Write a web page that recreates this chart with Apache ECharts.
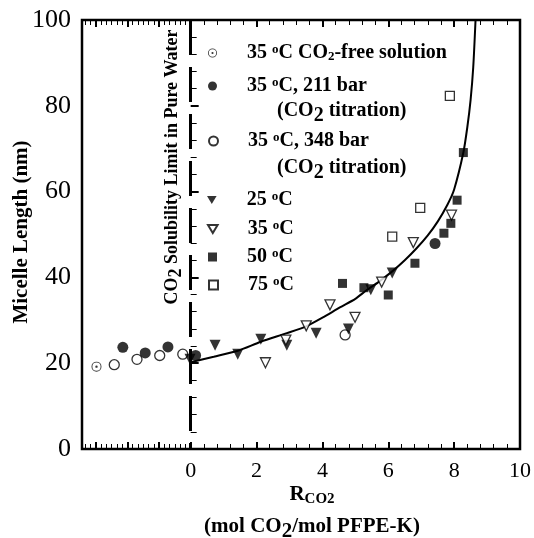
<!DOCTYPE html>
<html>
<head>
<meta charset="utf-8">
<script src="https://cdn.jsdelivr.net/npm/echarts@6/dist/echarts.min.js"></script>
<style>html,body{margin:0;padding:0;background:#fff}#c{width:534px;height:538px}</style>
</head>
<body>
<div id="c"></div>
<script>
// ---- data ----
const co2Free = [[-2.86, 19.2]];
const bar211 = [[-2.06, 23.7], [-1.38, 22.4], [-0.69, 23.8], [0.15, 21.8], [7.42, 47.9]];
const bar348 = [[-2.32, 19.65], [-1.63, 20.9], [-0.94, 21.8], [-0.24, 22.1], [4.69, 26.6]];
const t25 = [[-0.02, 20.9], [0.74, 24.2], [1.43, 22.1], [2.13, 25.6], [2.92, 24.2], [3.81, 27.0], [4.79, 28.0], [5.47, 37.1], [6.12, 41.0]];
const t35 = [[2.27, 20.1], [2.89, 25.4], [3.51, 28.7], [4.23, 33.6], [4.99, 30.7], [5.8, 38.9], [6.76, 48.1], [7.92, 54.5]];
const t50 = [[4.61, 38.6], [5.26, 37.6], [6.0, 35.9], [6.81, 43.3], [7.69, 50.3], [7.9, 52.6], [8.09, 58.0], [8.28, 69.1]];
const t75 = [[6.12, 49.5], [6.97, 56.2], [7.87, 82.3]];
const fitCurve = [[0, 20.2], [0.7, 21.5], [1.43, 22.9], [2.13, 25.0], [2.92, 27.0], [3.51, 28.6], [4.0, 30.6], [4.53, 33.0], [5.0, 35.0], [5.34, 37.0], [5.7, 38.9], [6.12, 41.4], [6.5, 44.0], [6.86, 46.8], [7.2, 49.8], [7.5, 53.0], [7.8, 57.0], [8.0, 60.5], [8.28, 69.1], [8.4, 75.0], [8.5, 81.4], [8.58, 89.0], [8.65, 100]];
const solubilityLimitX = 0;

// ---- axis ticks / labels ----
const xLabelValues = [0, 2, 4, 6, 8, 10];
const xMajorTicks = [-2.88, -1.92, -0.96, 0, 2, 4, 6, 8];
const xMinorTicks = [-3.20, -3.04, -2.72, -2.56, -2.40, -2.24, -2.08, -1.76, -1.60, -1.44, -1.28, -1.12, -0.80, -0.64, -0.48, -0.32, -0.16,
  0.4, 0.8, 1.2, 1.6, 2.4, 2.8, 3.2, 3.6, 4.4, 4.8, 5.2, 5.6, 6.4, 6.8, 7.2, 7.6, 8.4, 8.8, 9.2, 9.6];
const yMajorTicks = [20, 40, 60, 80];
const yMinorTicks = [4, 8, 12, 16, 24, 28, 32, 36, 44, 48, 52, 56, 64, 68, 72, 76, 84, 88, 92, 96];

// ---- legend texts ----
const legendNames = ['free', 'b211', 'b348', 'T25', 'T35', 'T50', 'T75'];
const legendLabels = {
  free: '35 {sup|o}C CO{sub|2}-free solution',
  b211: '35 {sup|o}C, 211 bar',
  b348: '35 {sup|o}C, 348 bar',
  T25: '25 {sup|o}C',
  T35: '35 {sup|o}C',
  T50: '50 {sup|o}C',
  T75: '75 {sup|o}C'
};

const SERIF = '"Liberation Serif", "Times New Roman", serif';
const XMIN = -3.3, XMAX = 10;

const chart = echarts.init(document.getElementById('c'), null, {renderer: 'canvas'});

const richSS = {
  sup: {fontSize: 13, fontWeight: 'bold', fontFamily: SERIF, verticalAlign: 'top', color: '#000', lineHeight: 20},
  sub: {fontSize: 13, fontWeight: 'bold', fontFamily: SERIF, verticalAlign: 'bottom', color: '#000', lineHeight: 14, padding: [8, 0, 0, 0]}
};

function xAxisDef(pos, ticks, len, w, labels) {
  return {
    type: 'value', min: XMIN, max: XMAX, position: pos,
    axisLine: {show: false}, splitLine: {show: false},
    axisTick: {show: true, inside: true, length: len, customValues: ticks, lineStyle: {color: '#000', width: w}},
    axisLabel: labels ? {show: true, customValues: xLabelValues, fontFamily: SERIF, fontSize: 22, color: '#000', margin: 11} : {show: false}
  };
}
function yAxisDef(ticks, len, w, labels) {
  return {
    type: 'value', min: 0, max: 100, interval: 20, position: 'left',
    axisLine: {show: false}, splitLine: {show: false},
    axisTick: {show: true, inside: true, length: len, customValues: ticks, lineStyle: {color: '#000', width: w}},
    axisLabel: labels ? {show: true, fontFamily: SERIF, fontSize: 26, color: '#000', margin: 11} : {show: false}
  };
}

const openStyle = {color: '#fff', borderColor: '#000', borderWidth: 1.3};
const fillStyle = {color: '#000'};
const dotCirclePath = 'path://M0,-10A10,10 0 1,1 0,10A10,10 0 1,1 0,-10ZM0,-8.2A8.2,8.2 0 1,0 0,8.2A8.2,8.2 0 1,0 0,-8.2ZM0,-2.4A2.4,2.4 0 1,1 0,2.4A2.4,2.4 0 1,1 0,-2.4Z';
const downTriPath = 'path://M0,0L12,0L6,10Z';

function scatter(name, data, symbol, size, style, rotate) {
  return {
    name: name, type: 'scatter', data: data, symbol: symbol, symbolSize: size,
    symbolRotate: rotate || 0, itemStyle: style, z: 5, silent: true
  };
}

const series = [
  {
    name: 'fit', type: 'line', data: fitCurve, smooth: 0.25, showSymbol: false, symbol: 'none',
    lineStyle: {color: '#000', width: 2}, z: 3, silent: true,
    markLine: {
      silent: true, symbol: 'none', animation: false,
      label: {show: false},
      lineStyle: {color: '#000', width: 3, type: [35, 12]},
      data: [[{coord: [solubilityLimitX, 100]}, {coord: [solubilityLimitX, 0]}]]
    }
  },
  scatter('free', co2Free, dotCirclePath, 10, fillStyle),
  scatter('b211', bar211, 'circle', 11, fillStyle),
  scatter('b348', bar348, 'circle', 10, openStyle),
  scatter('T25', t25, 'triangle', 11, fillStyle, 180),
  scatter('T35', t35, 'triangle', 10, openStyle, 180),
  scatter('T50', t50, 'rect', 9, fillStyle),
  scatter('T75', t75, 'rect', 9, openStyle)
];

const legendTops = [42, 76, 131, 190, 219, 247, 275];
const legendIcons = [null, null, null, downTriPath, downTriPath, null, null];
const legends = legendNames.map(function (n, i) {
  const l = {
    data: [n], left: 208, top: legendTops[i], orient: 'vertical',
    itemWidth: 9, itemHeight: 9, selectedMode: false, padding: 0,
    formatter: function (name) { return legendLabels[name]; },
    textStyle: {fontFamily: SERIF, fontWeight: 'bold', fontSize: 20, color: '#000', rich: richSS, padding: [0, 0, 0, 25]}
  };
  if (legendIcons[i]) { l.icon = legendIcons[i]; l.itemWidth = 10; l.itemHeight = 8; l.left = 207; }
  return l;
});

function richBold(sz) {
  return {
    s: {fontFamily: SERIF, fontWeight: 'bold', fontSize: sz, fill: '#000', verticalAlign: 'bottom', padding: [9, 0, 0, 0]}
  };
}

const option = {
  animation: false,
  backgroundColor: '#fff',
  grid: {left: 82, right: 14, top: 20, bottom: 89, show: true, borderColor: '#000', borderWidth: 2.5, backgroundColor: 'transparent'},
  xAxis: [
    xAxisDef('bottom', xMajorTicks, 7, 2, true),
    xAxisDef('bottom', xMinorTicks, 5, 1, false),
    xAxisDef('top', xMajorTicks, 7, 2, false),
    xAxisDef('top', xMinorTicks, 5, 1, false)
  ],
  yAxis: [
    yAxisDef(yMajorTicks, 8, 2, true),
    yAxisDef(yMinorTicks, 6, 1, false)
  ],
  legend: legends,
  series: series,
  graphic: [
    {type: 'text', x: 277, y: 111, style: {text: '(CO{s|2} titration)', font: 'bold 20px ' + SERIF, fill: '#000', verticalAlign: 'middle', rich: richBold(20)}},
    {type: 'text', x: 277, y: 168, style: {text: '(CO{s|2} titration)', font: 'bold 20px ' + SERIF, fill: '#000', verticalAlign: 'middle', rich: richBold(20)}},
    {type: 'text', x: 172, y: 167, rotation: Math.PI / 2, style: {text: 'CO{s|2} Solubility Limit in Pure Water', font: 'bold 18px ' + SERIF, fill: '#000', align: 'center', verticalAlign: 'middle', rich: richBold(18)}},
    {type: 'text', x: 22, y: 232, rotation: Math.PI / 2, style: {text: 'Micelle Length (nm)', font: 'bold 21px ' + SERIF, fill: '#000', align: 'center', verticalAlign: 'middle'}},
    {type: 'text', x: 312, y: 495, style: {text: 'R{s|CO2}', font: 'bold 21px ' + SERIF, fill: '#000', align: 'center', verticalAlign: 'middle', rich: {s: {fontFamily: SERIF, fontWeight: 'bold', fontSize: 15, fill: '#000', verticalAlign: 'bottom', padding: [8, 0, 0, 0]}}}},
    {type: 'text', x: 312, y: 527, style: {text: '(mol CO{s|2}/mol PFPE-K)', font: 'bold 21px ' + SERIF, fill: '#000', align: 'center', verticalAlign: 'middle', rich: richBold(21)}}
  ]
};
chart.setOption(option);
</script>
</body>
</html>
